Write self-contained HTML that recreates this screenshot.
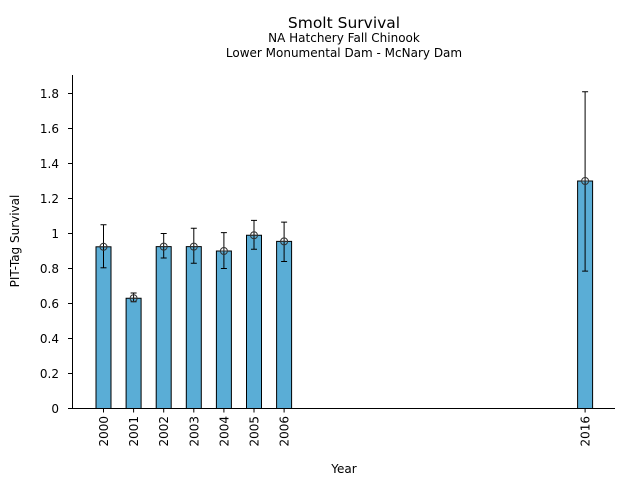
<!DOCTYPE html>
<html><head><style>body{margin:0;background:#fff}svg{display:block}text{font-family:"DejaVu Sans","Liberation Sans",sans-serif;fill:#000}</style></head><body>
<svg width="640" height="480" viewBox="0 0 640 480">
<text x="344" y="28" font-size="15.5" text-anchor="middle">Smolt Survival</text>
<text x="344" y="42" font-size="12" text-anchor="middle">NA Hatchery Fall Chinook</text>
<text x="344" y="57" font-size="12" text-anchor="middle">Lower Monumental Dam - McNary Dam</text>
<g id="bars" stroke="#000" stroke-width="1" fill="#5aadd6"></g>
<line x1="72.5" y1="75" x2="72.5" y2="408.5" stroke="#000"/>
<line x1="72" y1="408.5" x2="615" y2="408.5" stroke="#000"/>
<g id="yt" font-size="12"></g>
<g id="xt" font-size="12"></g>
<text x="344" y="473" font-size="12" text-anchor="middle">Year</text>
<text transform="translate(19,241) rotate(-90)" font-size="12" text-anchor="middle">PIT-Tag Survival</text>
</svg>
<script>
var ns="http://www.w3.org/2000/svg";
function el(p,t,a,txt){var e=document.createElementNS(ns,t);for(var k in a)e.setAttribute(k,a[k]);if(txt!=null)e.textContent=txt;document.getElementById(p).appendChild(e);}
function Y(v){return 408.5-175*v;}
for(var i=0;i<=9;i++){var v=i*0.2,y=Y(v);el('yt','line',{x1:68,x2:72,y1:y,y2:y,stroke:'#000'});
el('yt','text',{x:59,y:y+4.5,'text-anchor':'end'},i==0?'0':(i==5?'1':v.toFixed(1)));}
var d=[[2000,.924,.804,1.05],[2001,.63,.61,.66],[2002,.925,.86,1.0],[2003,.925,.83,1.03],[2004,.9,.80,1.005],[2005,.99,.91,1.075],[2006,.955,.84,1.065],[2016,1.3,.785,1.81]];
d.forEach(function(r){var x=103.5+(r[0]-2000)*30.1;
el('bars','rect',{x:x-7.5,y:Y(r[1]),width:15,height:408.5-Y(r[1])});
el('bars','line',{x1:x,x2:x,y1:Y(r[2]),y2:Y(r[3])});
el('bars','line',{x1:x-3,x2:x+3,y1:Y(r[2]),y2:Y(r[2])});
el('bars','line',{x1:x-3,x2:x+3,y1:Y(r[3]),y2:Y(r[3])});
el('bars','circle',{cx:x,cy:Y(r[1]),r:3.5,fill:'none',stroke:'#333'});
el('bars','line',{x1:x-3.5,x2:x+3.5,y1:Y(r[1]),y2:Y(r[1]),stroke:'#333'});
el('xt','line',{x1:x,x2:x,y1:408.5,y2:412.5,stroke:'#000'});
el('xt','text',{transform:'translate('+(x+4.5)+',416) rotate(-90)','text-anchor':'end'},r[0]);});
</script>
</body></html>
